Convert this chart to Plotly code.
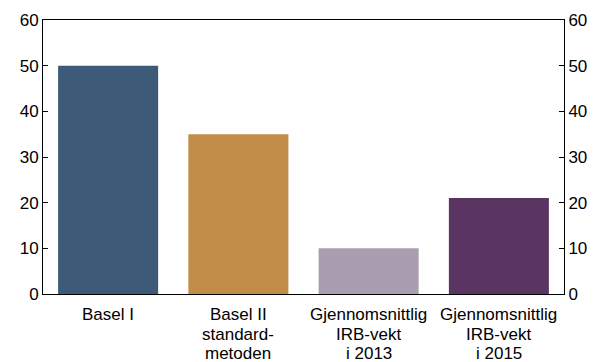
import plotly.graph_objects as go

categories = ["Basel I", "Basel II", "IRB 2013", "IRB 2015"]
category_labels = [
    ["Basel I"],
    ["Basel II", "standard-", "metoden"],
    ["Gjennomsnittlig", "IRB-vekt", "i 2013"],
    ["Gjennomsnittlig", "IRB-vekt", "i 2015"],
]
values = [50, 35, 10, 21]
colors = ["#3d5a78", "#c08c48", "#aa9db0", "#5a3562"]
y_ticks = [0, 10, 20, 30, 40, 50, 60]

fig = go.Figure()
fig.add_trace(go.Bar(x=categories, y=values, marker=dict(color=colors, line=dict(width=0)),
                     showlegend=False, hoverinfo="skip"))
fig.add_trace(go.Scatter(x=categories, y=values, yaxis="y2", mode="markers",
                         marker=dict(opacity=0), showlegend=False, hoverinfo="skip"))

font = dict(family="Liberation Sans, Arial, sans-serif", size=17, color="#000000")

annotations = []
for cat, lines in zip(categories, category_labels):
    for i, line in enumerate(lines):
        annotations.append(dict(x=cat, y=0, xref="x", yref="y", text=line, showarrow=False,
                                xanchor="center", yanchor="top", yshift=-8 - i * 19.5,
                                height=21, valign="middle", font=font))

fig.update_layout(
    width=600, height=362,
    margin=dict(l=35, r=44, t=12, b=76),
    paper_bgcolor="white", plot_bgcolor="white",
    font=font,
    bargap=0.232,
    annotations=annotations,
    xaxis=dict(showline=True, linecolor="black", linewidth=1, mirror=True,
               showgrid=False, ticks="", showticklabels=False, automargin=False),
    yaxis=dict(range=[0, 60], tickvals=y_ticks, showline=True, linecolor="black", linewidth=1,
               ticks="inside", ticklen=5, tickcolor="black", showgrid=False, zeroline=False,
               tickfont=font, automargin=False),
    yaxis2=dict(range=[0, 60], tickvals=y_ticks, overlaying="y", side="right", showline=True,
                linecolor="black", linewidth=1, ticks="inside", ticklen=5, tickcolor="black",
                showgrid=False, zeroline=False, tickfont=font, automargin=False),
)
fig.write_html("out.html")
